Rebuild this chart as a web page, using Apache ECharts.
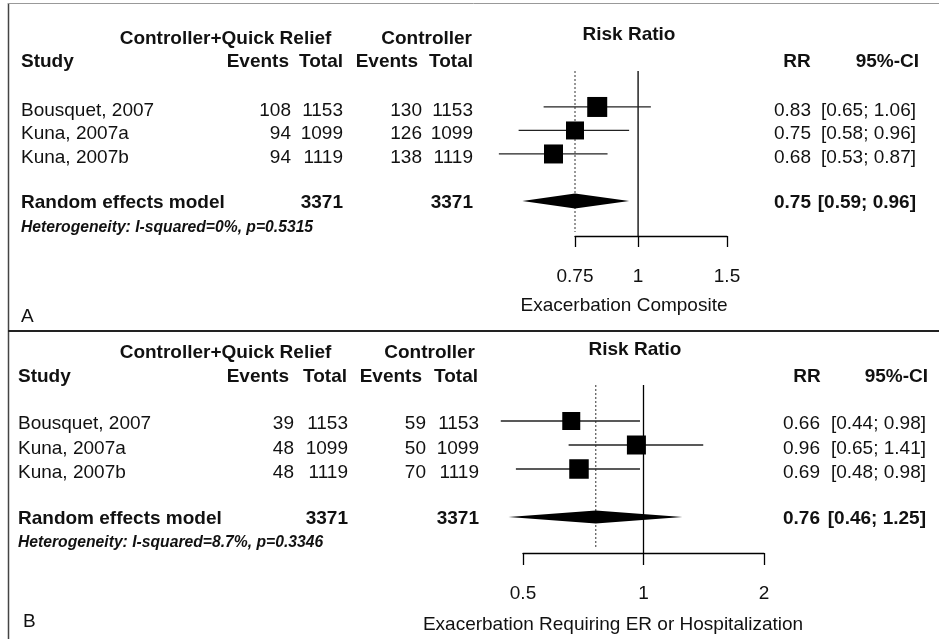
<!DOCTYPE html>
<html><head><meta charset="utf-8">
<script src="https://cdn.jsdelivr.net/npm/echarts@6/dist/echarts.min.js"></script>
<style>html,body{margin:0;padding:0;background:#fff}#c{width:939px;height:639px}</style>
</head><body><div id="c"></div><script>
// ---------------- DATA ----------------
const studies = ["Bousquet, 2007", "Kuna, 2007a", "Kuna, 2007b"];
const groupTreat = "Controller+Quick Relief";
const groupCtrl = "Controller";
const summaryName = "Random effects model";

// Panel A
const aEventsT = [108, 94, 94];
const aTotalT = [1153, 1099, 1119];
const aEventsC = [130, 126, 138];
const aTotalC = [1153, 1099, 1119];
const aRR = [0.83, 0.75, 0.68];
const aLo = [0.65, 0.58, 0.53];
const aHi = [1.06, 0.96, 0.87];
const aSummary = [0.75, 0.59, 0.96];
const aTotals = [3371, 3371];
const aHet = "Heterogeneity: I-squared=0%, p=0.5315";
const aTicks = [0.75, 1, 1.5];
const aTickLabels = ["0.75", "1", "1.5"];
const aXLabel = "Exacerbation Composite";

// Panel B
const bEventsT = [39, 48, 48];
const bTotalT = [1153, 1099, 1119];
const bEventsC = [59, 50, 70];
const bTotalC = [1153, 1099, 1119];
const bRR = [0.66, 0.96, 0.69];
const bLo = [0.44, 0.65, 0.48];
const bHi = [0.98, 1.41, 0.98];
const bSummary = [0.76, 0.46, 1.25];
const bTotals = [3371, 3371];
const bHet = "Heterogeneity: I-squared=8.7%, p=0.3346";
const bTicks = [0.5, 1, 2];
const bTickLabels = ["0.5", "1", "2"];
const bXLabel = "Exacerbation Requiring ER or Hospitalization";

// ---------------- LAYOUT / STYLE ----------------
const FONT = "'Liberation Sans', Arial, Helvetica, sans-serif";
const INK = '#111';
const panels = [
  { letter: 'A', evT: aEventsT, totT: aTotalT, evC: aEventsC, totC: aTotalC, rr: aRR, lo: aLo, hi: aHi,
    sum: aSummary, totals: aTotals, het: aHet, ticks: aTicks, tickLabels: aTickLabels, xlab: aXLabel,
    grid: { left: 575, right: 212, top: 71, bottom: 403 }, yMin: -1.53, yMax: 5.49,
    headY1: 39, headY2: 62, riskX: 629, riskY: 35, rowsY: [111, 134, 158], sumY: 203, hetY: 228,
    letterX: 21, letterY: 317, xlabX: 624, xlabY: 306, studyX: 21,
    colEvT: 291, colTotT: 343, colEvC: 422, colTotC: 473,
    headEvT: 289, headTotT: 343, headEvC: 418, headTotC: 473,
    grpTX: 225.5, grpCRight: 472, rrRight: 811, ciRight: 916, rrHeadX: 797, ciHeadRight: 919,
    boxes: [20, 18, 19], diamondH: 7.5, tickLen: 11, labelMargin: 31 },
  { letter: 'B', evT: bEventsT, totT: bTotalT, evC: bEventsC, totC: bTotalC, rr: bRR, lo: bLo, hi: bHi,
    sum: bSummary, totals: bTotals, het: bHet, ticks: bTicks, tickLabels: bTickLabels, xlab: bXLabel,
    grid: { left: 523, right: 175, top: 385, bottom: 86 }, yMin: -1.5, yMax: 5.5,
    headY1: 353, headY2: 377, riskX: 635, riskY: 350, rowsY: [424, 449, 473], sumY: 519, hetY: 543,
    letterX: 23, letterY: 622, xlabX: 613, xlabY: 625, studyX: 18,
    colEvT: 294, colTotT: 348, colEvC: 426, colTotC: 479,
    headEvT: 289, headTotT: 347, headEvC: 422, headTotC: 478,
    grpTX: 225.5, grpCRight: 475, rrRight: 820, ciRight: 926, rrHeadX: 807, ciHeadRight: 928,
    boxes: [18, 19, 19.5], diamondH: 6.5, tickLen: 12, labelMargin: 31 }
];

function T(text, x, y, align, o) {
  o = o || {};
  return { type: 'text', x: x, y: y, silent: true,
    style: { text: String(text), fill: INK,
      font: (o.italic ? 'italic ' : '') + (o.bold ? 'bold ' : '') + (o.size || 19) + 'px ' + FONT,
      align: align, textAlign: align, verticalAlign: 'middle', textVerticalAlign: 'middle' } };
}
const f2 = v => v.toFixed(2);

const grids = [], xAxes = [], yAxes = [], series = [], graphics = [];

// frame
graphics.push({ type: 'line', shape: { x1: 8.5, y1: 3, x2: 8.5, y2: 639 }, style: { stroke: '#444', lineWidth: 1.5 } });
graphics.push({ type: 'line', shape: { x1: 8, y1: 3.5, x2: 939, y2: 3.5 }, style: { stroke: '#999', lineWidth: 1 } });
graphics.push({ type: 'line', shape: { x1: 8, y1: 331, x2: 939, y2: 331 }, style: { stroke: '#222', lineWidth: 2 } });

panels.forEach((p, gi) => {
  grids.push(Object.assign({ containLabel: false }, p.grid));
  const tv = p.ticks.map(t => Math.log(t));
  xAxes.push({
    gridIndex: gi, type: 'value', min: Math.log(p.ticks[0]), max: Math.log(p.ticks[p.ticks.length - 1]),
    splitLine: { show: false },
    axisLine: { show: true, onZero: false, lineStyle: { color: '#000', width: 1.3 } },
    axisTick: { show: true, customValues: tv, length: p.tickLen, lineStyle: { color: '#000', width: 1.3 } },
    axisLabel: { show: true, customValues: tv, margin: p.labelMargin, showMinLabel: true, showMaxLabel: true,
      color: INK, fontSize: 19, fontFamily: FONT,
      formatter: v => { const i = tv.findIndex(t => Math.abs(t - v) < 1e-6); return i >= 0 ? p.tickLabels[i] : ''; } }
  });
  yAxes.push({ gridIndex: gi, type: 'value', inverse: true, min: p.yMin, max: p.yMax, show: false });

  // vertical reference lines (no effect at 1, summary estimate dotted)
  series.push({
    type: 'custom', xAxisIndex: gi, yAxisIndex: gi, clip: false, silent: true,
    data: [[0, 0], [Math.log(p.sum[0]), 1]],
    encode: { x: 0 },
    renderItem: (params, api) => {
      const cs = params.coordSys;
      const x = api.coord([api.value(0), 0])[0];
      const dotted = api.value(1) === 1;
      return { type: 'line',
        shape: { x1: x, y1: cs.y, x2: x, y2: cs.y + cs.height - (dotted ? 4 : 0) },
        style: dotted ? { stroke: '#333', lineWidth: 1, lineDash: [2, 2] } : { stroke: '#000', lineWidth: 1.3 } };
    }
  });

  // studies: CI line + square
  series.push({
    type: 'custom', xAxisIndex: gi, yAxisIndex: gi, clip: false, silent: true,
    data: p.rr.map((r, i) => [Math.log(r), Math.log(p.lo[i]), Math.log(p.hi[i]), i, p.boxes[i]]),
    encode: { x: [0, 1, 2], y: 3 },
    renderItem: (params, api) => {
      const row = api.value(3);
      const a = api.coord([api.value(1), row]);
      const b = api.coord([api.value(2), row]);
      const c = api.coord([api.value(0), row]);
      const s = api.value(4);
      return { type: 'group', children: [
        { type: 'line', shape: { x1: a[0], y1: a[1], x2: b[0], y2: b[1] }, style: { stroke: '#222', lineWidth: 1.3 } },
        { type: 'rect', shape: { x: c[0] - s / 2, y: c[1] - s / 2, width: s, height: s }, style: { fill: '#000' } }
      ] };
    }
  });

  // summary diamond
  const dh = p.diamondH;
  series.push({
    type: 'custom', xAxisIndex: gi, yAxisIndex: gi, clip: false, silent: true,
    data: [[Math.log(p.sum[0]), Math.log(p.sum[1]), Math.log(p.sum[2]), 4]],
    encode: { x: [0, 1, 2], y: 3 },
    renderItem: (params, api) => {
      const row = api.value(3);
      const a = api.coord([api.value(1), row]);
      const b = api.coord([api.value(2), row]);
      const c = api.coord([api.value(0), row]);
      return { type: 'polygon', shape: { points: [[a[0], a[1]], [c[0], c[1] - dh], [b[0], b[1]], [c[0], c[1] + dh]] },
        style: { fill: '#000' } };
    }
  });

  // text table
  graphics.push(T(groupTreat, p.grpTX, p.headY1, 'center', { bold: true }));
  graphics.push(T(groupCtrl, p.grpCRight, p.headY1, 'right', { bold: true }));
  graphics.push(T('Risk Ratio', p.riskX, p.riskY, 'center', { bold: true }));
  graphics.push(T('Study', p.studyX, p.headY2, 'left', { bold: true }));
  graphics.push(T('Events', p.headEvT, p.headY2, 'right', { bold: true }));
  graphics.push(T('Total', p.headTotT, p.headY2, 'right', { bold: true }));
  graphics.push(T('Events', p.headEvC, p.headY2, 'right', { bold: true }));
  graphics.push(T('Total', p.headTotC, p.headY2, 'right', { bold: true }));
  graphics.push(T('RR', p.rrHeadX, p.headY2, 'center', { bold: true }));
  graphics.push(T('95%-CI', p.ciHeadRight, p.headY2, 'right', { bold: true }));
  studies.forEach((s, i) => {
    const y = p.rowsY[i];
    graphics.push(T(s, p.studyX, y, 'left'));
    graphics.push(T(p.evT[i], p.colEvT, y, 'right'));
    graphics.push(T(p.totT[i], p.colTotT, y, 'right'));
    graphics.push(T(p.evC[i], p.colEvC, y, 'right'));
    graphics.push(T(p.totC[i], p.colTotC, y, 'right'));
    graphics.push(T(f2(p.rr[i]), p.rrRight, y, 'right'));
    graphics.push(T('[' + f2(p.lo[i]) + '; ' + f2(p.hi[i]) + ']', p.ciRight, y, 'right'));
  });
  graphics.push(T(summaryName, p.studyX, p.sumY, 'left', { bold: true }));
  graphics.push(T(p.totals[0], p.colTotT, p.sumY, 'right', { bold: true }));
  graphics.push(T(p.totals[1], p.colTotC, p.sumY, 'right', { bold: true }));
  graphics.push(T(f2(p.sum[0]), p.rrRight, p.sumY, 'right', { bold: true }));
  graphics.push(T('[' + f2(p.sum[1]) + '; ' + f2(p.sum[2]) + ']', p.ciRight, p.sumY, 'right', { bold: true }));
  graphics.push(T(p.het, p.studyX, p.hetY, 'left', { bold: true, italic: true, size: 15.7 }));
  graphics.push(T(p.letter, p.letterX, p.letterY, 'left'));
  graphics.push(T(p.xlab, p.xlabX, p.xlabY, 'center'));
});

const chart = echarts.init(document.getElementById('c'), null, { renderer: 'canvas' });
chart.setOption({
  animation: false,
  backgroundColor: '#fff',
  grid: grids, xAxis: xAxes, yAxis: yAxes, series: series,
  graphic: graphics
});
</script></body></html>
